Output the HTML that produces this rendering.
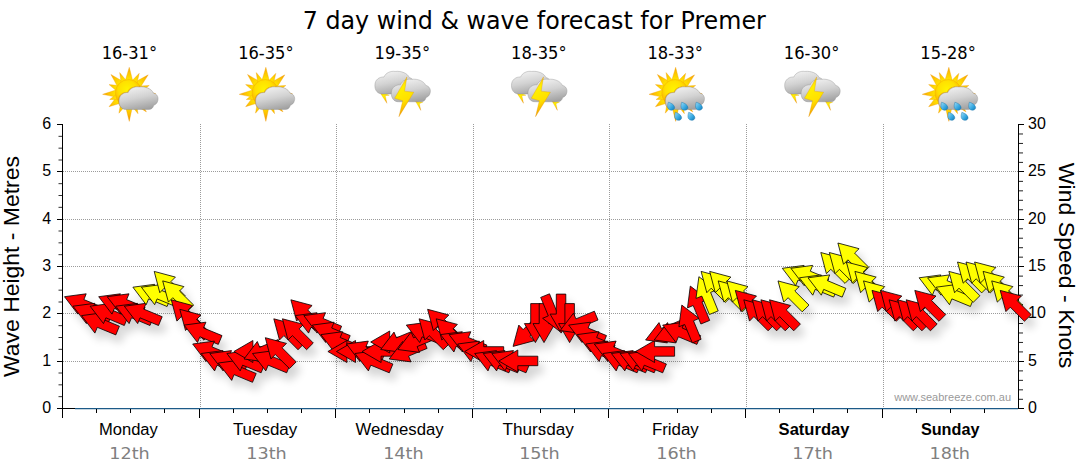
<!DOCTYPE html>
<html lang="en">
<head>
<meta charset="utf-8">
<title>7 day wind &amp; wave forecast for Premer</title>
<style>
html,body{margin:0;padding:0;background:#fff;}
body{width:1080px;height:475px;overflow:hidden;font-family:"Liberation Sans",Arial,sans-serif;}
svg{display:block;}
</style>
</head>
<body>
<svg width="1080" height="475" viewBox="0 0 1080 475">
<defs>
<filter id="sh" x="-5%" y="-20%" width="110%" height="150%">
  <feGaussianBlur in="SourceAlpha" stdDeviation="4.2" result="b"/>
  <feOffset in="b" dx="5" dy="8" result="o"/>
  <feComponentTransfer in="o" result="s"><feFuncA type="linear" slope="0.17"/></feComponentTransfer>
  <feMerge><feMergeNode in="s"/><feMergeNode in="SourceGraphic"/></feMerge>
</filter>
<radialGradient id="gsun" cx="0.45" cy="0.38" r="0.66">
  <stop offset="0" stop-color="#fff400"/><stop offset="0.5" stop-color="#ffe000"/><stop offset="0.85" stop-color="#fab400"/><stop offset="1" stop-color="#f39800"/>
</radialGradient>
<radialGradient id="gray" gradientUnits="userSpaceOnUse" cx="267" cy="221" r="225">
  <stop offset="0.45" stop-color="#ffe600"/><stop offset="0.72" stop-color="#fdc200"/><stop offset="0.95" stop-color="#f39600"/>
</radialGradient>
<linearGradient id="gcl" x1="0.25" y1="0" x2="0.6" y2="1">
  <stop offset="0" stop-color="#f2f2f2"/><stop offset="0.5" stop-color="#d2d2d2"/><stop offset="1" stop-color="#a2a2a2"/>
</linearGradient>
<linearGradient id="gbolt" x1="0" y1="0" x2="0.3" y2="1">
  <stop offset="0" stop-color="#f7a800"/><stop offset="0.35" stop-color="#fff000"/><stop offset="0.7" stop-color="#ffe000"/><stop offset="1" stop-color="#f49a00"/>
</linearGradient>
<linearGradient id="gdrop" x1="0" y1="0" x2="1" y2="1">
  <stop offset="0" stop-color="#9adcf8"/><stop offset="0.6" stop-color="#35a7e0"/><stop offset="1" stop-color="#1378b4"/>
</linearGradient>
<path id="cloud" d="M248 352 C210 352 188 322 190 282 C190 240 225 215 262 218 C275 185 315 168 350 174 C400 168 450 190 462 222 C490 228 505 255 497 282 C492 305 475 315 465 318 C460 340 445 352 425 352 Z"/>
<path id="drop" d="M-20 -28 C-2 -24 22 -10 24 8 C25 22 12 30 -2 28 C-18 26 -27 12 -25 -4 C-24 -14 -22 -22 -20 -28 Z"/>
<g id="sunrays">
  <g fill="url(#gray)" stroke="#ee9c00" stroke-width="2.5" stroke-linejoin="round"><path d="M299 126 L271 18 L239 124 Z"/><path d="M358 177 L421 78 L317 134 Z"/><path d="M362 254 L481 228 L364 194 Z"/><path d="M311 312 L407 371 L354 271 Z"/><path d="M239 318 L271 446 L299 316 Z"/><path d="M171 251 L111 330 L206 301 Z"/><path d="M170 196 L60 232 L173 256 Z"/><path d="M222 131 L126 75 L179 173 Z"/><path d="M332 147 L350 66 L292 125 Z"/><path d="M365 210 L429 162 L349 167 Z"/><path d="M344 282 L417 291 L364 241 Z"/><path d="M285 318 L340 385 L327 299 Z"/><path d="M204 297 L189 381 L246 317 Z"/><path d="M169 231 L116 273 L184 274 Z"/><path d="M188 162 L111 155 L170 205 Z"/><path d="M249 124 L195 60 L207 143 Z"/></g>
  <circle cx="267" cy="221" r="106" fill="url(#gsun)" stroke="#f2a400" stroke-width="3"/>
</g>
<g id="ic-pc">
  <use href="#sunrays"/>
  <use href="#cloud" fill="#e58a00" opacity="0.55" transform="translate(-7,-4)"/>
  <use href="#cloud" fill="url(#gcl)" stroke="#8a8a8a" stroke-width="3"/>
</g>
<g id="ic-sh">
  <use href="#sunrays"/>
  <use href="#cloud" fill="#e58a00" opacity="0.55" transform="translate(-7,-4)"/>
  <use href="#cloud" fill="url(#gcl)" stroke="#8a8a8a" stroke-width="3"/>
  <g fill="url(#gdrop)" stroke="#1670a8" stroke-width="3">
    <use href="#drop" transform="translate(236,326) scale(1.12)"/>
    <use href="#drop" transform="translate(341,326) scale(1.12)"/>
    <use href="#drop" transform="translate(456,326) scale(1.12)"/>
    <use href="#drop" transform="translate(291,406) scale(1.12)"/>
    <use href="#drop" transform="translate(396,406) scale(1.12)"/>
  </g>
</g>
<g id="ic-st"><g transform="translate(-25,1)">
  <g fill="url(#gbolt)" stroke="#e09000" stroke-width="2">
    <path d="M120 215 L152 222 L192 238 L160 242 L173 302 L138 248 L128 232 Z"/>
    <path d="M396 282 L430 288 L458 292 L430 305 L441 358 L410 304 L404 294 Z"/>
  </g>
  <use href="#cloud" fill="url(#gcl)" stroke="#8a8a8a" stroke-width="3" transform="translate(-112,-124)"/>
  <use href="#cloud" fill="url(#gcl)" stroke="#8a8a8a" stroke-width="3" transform="translate(18,-62)"/>
  <path d="M331 93 L234 262 L298 282 L268 408 L386 214 L313 206 Z" fill="url(#gbolt)" stroke="#e09000" stroke-width="2.5"/>
</g></g>
</defs>

<rect width="1080" height="475" fill="#fff"/>
<text x="534.3" y="28.8" text-anchor="middle" font-family="'DejaVu Sans Condensed', 'DejaVu Sans', Tahoma, sans-serif" font-stretch="condensed" font-size="25" fill="#000" textLength="463" lengthAdjust="spacingAndGlyphs">7 day wind &amp; wave forecast for Premer</text>
<text x="128.40" y="434.6" text-anchor="middle" font-family="'Liberation Sans', Arial, sans-serif" font-size="16" fill="#000" textLength="58.9" lengthAdjust="spacingAndGlyphs">Monday</text><text x="129.5" y="458.8" text-anchor="middle" font-family="'DejaVu Sans', Verdana, sans-serif" font-size="16" fill="#808080" textLength="40.5" lengthAdjust="spacingAndGlyphs">12th</text><text x="129.4" y="59" text-anchor="middle" font-family="'DejaVu Sans Condensed', 'DejaVu Sans', Tahoma, sans-serif" font-stretch="condensed" font-size="17" fill="#000" textLength="55.5" lengthAdjust="spacingAndGlyphs">16-31°</text><text x="265.05" y="434.6" text-anchor="middle" font-family="'Liberation Sans', Arial, sans-serif" font-size="16" fill="#000" textLength="64.3" lengthAdjust="spacingAndGlyphs">Tuesday</text><text x="266.5" y="458.8" text-anchor="middle" font-family="'DejaVu Sans', Verdana, sans-serif" font-size="16" fill="#808080" textLength="40.5" lengthAdjust="spacingAndGlyphs">13th</text><text x="265.9" y="59" text-anchor="middle" font-family="'DejaVu Sans Condensed', 'DejaVu Sans', Tahoma, sans-serif" font-stretch="condensed" font-size="17" fill="#000" textLength="55.5" lengthAdjust="spacingAndGlyphs">16-35°</text><text x="399.60" y="434.6" text-anchor="middle" font-family="'Liberation Sans', Arial, sans-serif" font-size="16" fill="#000" textLength="88.0" lengthAdjust="spacingAndGlyphs">Wednesday</text><text x="403.4" y="458.8" text-anchor="middle" font-family="'DejaVu Sans', Verdana, sans-serif" font-size="16" fill="#808080" textLength="40.5" lengthAdjust="spacingAndGlyphs">14th</text><text x="402.3" y="59" text-anchor="middle" font-family="'DejaVu Sans Condensed', 'DejaVu Sans', Tahoma, sans-serif" font-stretch="condensed" font-size="17" fill="#000" textLength="55.5" lengthAdjust="spacingAndGlyphs">19-35°</text><text x="538.20" y="434.6" text-anchor="middle" font-family="'Liberation Sans', Arial, sans-serif" font-size="16" fill="#000" textLength="71.4" lengthAdjust="spacingAndGlyphs">Thursday</text><text x="539.4" y="458.8" text-anchor="middle" font-family="'DejaVu Sans', Verdana, sans-serif" font-size="16" fill="#808080" textLength="40.5" lengthAdjust="spacingAndGlyphs">15th</text><text x="538.8" y="59" text-anchor="middle" font-family="'DejaVu Sans Condensed', 'DejaVu Sans', Tahoma, sans-serif" font-stretch="condensed" font-size="17" fill="#000" textLength="55.5" lengthAdjust="spacingAndGlyphs">18-35°</text><text x="675.35" y="434.6" text-anchor="middle" font-family="'Liberation Sans', Arial, sans-serif" font-size="16" fill="#000" textLength="46.9" lengthAdjust="spacingAndGlyphs">Friday</text><text x="676.5" y="458.8" text-anchor="middle" font-family="'DejaVu Sans', Verdana, sans-serif" font-size="16" fill="#808080" textLength="40.5" lengthAdjust="spacingAndGlyphs">16th</text><text x="675.2" y="59" text-anchor="middle" font-family="'DejaVu Sans Condensed', 'DejaVu Sans', Tahoma, sans-serif" font-stretch="condensed" font-size="17" fill="#000" textLength="55.5" lengthAdjust="spacingAndGlyphs">18-33°</text><text x="814.00" y="434.6" text-anchor="middle" font-family="'Liberation Sans', Arial, sans-serif" font-size="16" fill="#000" font-weight="bold" textLength="70.8" lengthAdjust="spacingAndGlyphs">Saturday</text><text x="812.6" y="458.8" text-anchor="middle" font-family="'DejaVu Sans', Verdana, sans-serif" font-size="16" fill="#808080" textLength="40.5" lengthAdjust="spacingAndGlyphs">17th</text><text x="811.6" y="59" text-anchor="middle" font-family="'DejaVu Sans Condensed', 'DejaVu Sans', Tahoma, sans-serif" font-stretch="condensed" font-size="17" fill="#000" textLength="55.5" lengthAdjust="spacingAndGlyphs">16-30°</text><text x="950.20" y="434.6" text-anchor="middle" font-family="'Liberation Sans', Arial, sans-serif" font-size="16" fill="#000" font-weight="bold" textLength="58.6" lengthAdjust="spacingAndGlyphs">Sunday</text><text x="949.8" y="458.8" text-anchor="middle" font-family="'DejaVu Sans', Verdana, sans-serif" font-size="16" fill="#808080" textLength="40.5" lengthAdjust="spacingAndGlyphs">18th</text><text x="948.1" y="59" text-anchor="middle" font-family="'DejaVu Sans Condensed', 'DejaVu Sans', Tahoma, sans-serif" font-stretch="condensed" font-size="17" fill="#000" textLength="55.5" lengthAdjust="spacingAndGlyphs">15-28°</text>
<use href="#ic-pc" transform="translate(95.00,65) scale(0.12642)"/><use href="#ic-pc" transform="translate(231.60,65) scale(0.12642)"/><use href="#ic-st" transform="translate(368.20,65) scale(0.12642)"/><use href="#ic-st" transform="translate(504.80,65) scale(0.12642)"/><use href="#ic-sh" transform="translate(641.40,65) scale(0.12642)"/><use href="#ic-st" transform="translate(778.00,65) scale(0.12642)"/><use href="#ic-sh" transform="translate(914.60,65) scale(0.12642)"/>
<g stroke="#9b9b9b" stroke-width="1" stroke-dasharray="1 1" shape-rendering="crispEdges"><line x1="63" y1="361.5" x2="1018" y2="361.5"/><line x1="63" y1="313.5" x2="1018" y2="313.5"/><line x1="63" y1="266.5" x2="1018" y2="266.5"/><line x1="63" y1="219.5" x2="1018" y2="219.5"/><line x1="63" y1="171.5" x2="1018" y2="171.5"/><line x1="200.5" y1="124" x2="200.5" y2="408"/><line x1="336.5" y1="124" x2="336.5" y2="408"/><line x1="473.5" y1="124" x2="473.5" y2="408"/><line x1="609.5" y1="124" x2="609.5" y2="408"/><line x1="746.5" y1="124" x2="746.5" y2="408"/><line x1="883.5" y1="124" x2="883.5" y2="408"/></g>
<text x="1011" y="401" text-anchor="end" font-family="'Liberation Sans', Arial, sans-serif" font-size="11" fill="#9a9a9a">www.seabreeze.com.au</text>
<g stroke="#000" stroke-width="1" shape-rendering="crispEdges"><line x1="62.5" y1="124" x2="62.5" y2="409"/><line x1="1018.5" y1="124" x2="1018.5" y2="409"/><line x1="57" y1="408.5" x2="1024" y2="408.5"/></g><line x1="75" y1="408.5" x2="1018" y2="408.5" stroke="#1c5a88" stroke-width="1" shape-rendering="crispEdges"/><line x1="75" y1="409.5" x2="1018" y2="409.5" stroke="#1c5a88" stroke-opacity="0.25" stroke-width="1" shape-rendering="crispEdges"/>
<g stroke="#000" stroke-width="1" shape-rendering="crispEdges"><line x1="57" y1="408.5" x2="62" y2="408.5"/><line x1="58.5" y1="396.67" x2="62" y2="396.67" shape-rendering="geometricPrecision" stroke="#333"/><line x1="58.5" y1="384.83" x2="62" y2="384.83" shape-rendering="geometricPrecision" stroke="#333"/><line x1="58.5" y1="373.00" x2="62" y2="373.00" shape-rendering="geometricPrecision" stroke="#333"/><line x1="57" y1="361.5" x2="62" y2="361.5"/><line x1="58.5" y1="349.33" x2="62" y2="349.33" shape-rendering="geometricPrecision" stroke="#333"/><line x1="58.5" y1="337.50" x2="62" y2="337.50" shape-rendering="geometricPrecision" stroke="#333"/><line x1="58.5" y1="325.67" x2="62" y2="325.67" shape-rendering="geometricPrecision" stroke="#333"/><line x1="57" y1="313.5" x2="62" y2="313.5"/><line x1="58.5" y1="302.00" x2="62" y2="302.00" shape-rendering="geometricPrecision" stroke="#333"/><line x1="58.5" y1="290.17" x2="62" y2="290.17" shape-rendering="geometricPrecision" stroke="#333"/><line x1="58.5" y1="278.33" x2="62" y2="278.33" shape-rendering="geometricPrecision" stroke="#333"/><line x1="57" y1="266.5" x2="62" y2="266.5"/><line x1="58.5" y1="254.67" x2="62" y2="254.67" shape-rendering="geometricPrecision" stroke="#333"/><line x1="58.5" y1="242.83" x2="62" y2="242.83" shape-rendering="geometricPrecision" stroke="#333"/><line x1="58.5" y1="231.00" x2="62" y2="231.00" shape-rendering="geometricPrecision" stroke="#333"/><line x1="57" y1="219.5" x2="62" y2="219.5"/><line x1="58.5" y1="207.33" x2="62" y2="207.33" shape-rendering="geometricPrecision" stroke="#333"/><line x1="58.5" y1="195.50" x2="62" y2="195.50" shape-rendering="geometricPrecision" stroke="#333"/><line x1="58.5" y1="183.67" x2="62" y2="183.67" shape-rendering="geometricPrecision" stroke="#333"/><line x1="57" y1="171.5" x2="62" y2="171.5"/><line x1="58.5" y1="160.00" x2="62" y2="160.00" shape-rendering="geometricPrecision" stroke="#333"/><line x1="58.5" y1="148.17" x2="62" y2="148.17" shape-rendering="geometricPrecision" stroke="#333"/><line x1="58.5" y1="136.33" x2="62" y2="136.33" shape-rendering="geometricPrecision" stroke="#333"/><line x1="57" y1="124.5" x2="62" y2="124.5"/><line x1="1019" y1="408.5" x2="1024" y2="408.5"/><line x1="1019" y1="399.30" x2="1023" y2="399.30" shape-rendering="geometricPrecision" stroke="#222"/><line x1="1019" y1="389.83" x2="1023" y2="389.83" shape-rendering="geometricPrecision" stroke="#222"/><line x1="1019" y1="380.35" x2="1023" y2="380.35" shape-rendering="geometricPrecision" stroke="#222"/><line x1="1019" y1="370.88" x2="1023" y2="370.88" shape-rendering="geometricPrecision" stroke="#222"/><line x1="1019" y1="361.5" x2="1024" y2="361.5"/><line x1="1019" y1="351.92" x2="1023" y2="351.92" shape-rendering="geometricPrecision" stroke="#222"/><line x1="1019" y1="342.45" x2="1023" y2="342.45" shape-rendering="geometricPrecision" stroke="#222"/><line x1="1019" y1="332.97" x2="1023" y2="332.97" shape-rendering="geometricPrecision" stroke="#222"/><line x1="1019" y1="323.50" x2="1023" y2="323.50" shape-rendering="geometricPrecision" stroke="#222"/><line x1="1019" y1="313.5" x2="1024" y2="313.5"/><line x1="1019" y1="304.54" x2="1023" y2="304.54" shape-rendering="geometricPrecision" stroke="#222"/><line x1="1019" y1="295.07" x2="1023" y2="295.07" shape-rendering="geometricPrecision" stroke="#222"/><line x1="1019" y1="285.59" x2="1023" y2="285.59" shape-rendering="geometricPrecision" stroke="#222"/><line x1="1019" y1="276.12" x2="1023" y2="276.12" shape-rendering="geometricPrecision" stroke="#222"/><line x1="1019" y1="266.5" x2="1024" y2="266.5"/><line x1="1019" y1="257.16" x2="1023" y2="257.16" shape-rendering="geometricPrecision" stroke="#222"/><line x1="1019" y1="247.69" x2="1023" y2="247.69" shape-rendering="geometricPrecision" stroke="#222"/><line x1="1019" y1="238.21" x2="1023" y2="238.21" shape-rendering="geometricPrecision" stroke="#222"/><line x1="1019" y1="228.74" x2="1023" y2="228.74" shape-rendering="geometricPrecision" stroke="#222"/><line x1="1019" y1="219.5" x2="1024" y2="219.5"/><line x1="1019" y1="209.78" x2="1023" y2="209.78" shape-rendering="geometricPrecision" stroke="#222"/><line x1="1019" y1="200.31" x2="1023" y2="200.31" shape-rendering="geometricPrecision" stroke="#222"/><line x1="1019" y1="190.83" x2="1023" y2="190.83" shape-rendering="geometricPrecision" stroke="#222"/><line x1="1019" y1="181.36" x2="1023" y2="181.36" shape-rendering="geometricPrecision" stroke="#222"/><line x1="1019" y1="171.5" x2="1024" y2="171.5"/><line x1="1019" y1="162.40" x2="1023" y2="162.40" shape-rendering="geometricPrecision" stroke="#222"/><line x1="1019" y1="152.93" x2="1023" y2="152.93" shape-rendering="geometricPrecision" stroke="#222"/><line x1="1019" y1="143.45" x2="1023" y2="143.45" shape-rendering="geometricPrecision" stroke="#222"/><line x1="1019" y1="133.98" x2="1023" y2="133.98" shape-rendering="geometricPrecision" stroke="#222"/><line x1="1019" y1="124.5" x2="1024" y2="124.5"/><line x1="62.5" y1="409" x2="62.5" y2="418"/><line x1="96.5" y1="409" x2="96.5" y2="413"/><line x1="130.5" y1="409" x2="130.5" y2="413"/><line x1="164.5" y1="409" x2="164.5" y2="413"/><line x1="199.5" y1="409" x2="199.5" y2="418"/><line x1="233.5" y1="409" x2="233.5" y2="413"/><line x1="267.5" y1="409" x2="267.5" y2="413"/><line x1="301.5" y1="409" x2="301.5" y2="413"/><line x1="335.5" y1="409" x2="335.5" y2="418"/><line x1="369.5" y1="409" x2="369.5" y2="413"/><line x1="404.5" y1="409" x2="404.5" y2="413"/><line x1="438.5" y1="409" x2="438.5" y2="413"/><line x1="472.5" y1="409" x2="472.5" y2="418"/><line x1="506.5" y1="409" x2="506.5" y2="413"/><line x1="540.5" y1="409" x2="540.5" y2="413"/><line x1="574.5" y1="409" x2="574.5" y2="413"/><line x1="608.5" y1="409" x2="608.5" y2="418"/><line x1="643.5" y1="409" x2="643.5" y2="413"/><line x1="677.5" y1="409" x2="677.5" y2="413"/><line x1="711.5" y1="409" x2="711.5" y2="413"/><line x1="745.5" y1="409" x2="745.5" y2="418"/><line x1="779.5" y1="409" x2="779.5" y2="413"/><line x1="813.5" y1="409" x2="813.5" y2="413"/><line x1="847.5" y1="409" x2="847.5" y2="413"/><line x1="882.5" y1="409" x2="882.5" y2="418"/><line x1="916.5" y1="409" x2="916.5" y2="413"/><line x1="950.5" y1="409" x2="950.5" y2="413"/><line x1="984.5" y1="409" x2="984.5" y2="413"/></g>
<g filter="url(#sh)">
<g stroke="#000" stroke-width="0.8" stroke-linejoin="miter">
<polygon fill="#ff0000" points="64.5,296.7 77.8,314.1 80.2,308.4 98.7,316.0 102.3,307.2 83.9,299.6 86.2,293.8"/>
<polygon fill="#ff0000" points="73.0,306.2 86.4,323.6 88.8,317.8 107.2,325.5 110.9,316.7 92.4,309.1 94.8,303.3"/>
<polygon fill="#ff0000" points="81.6,315.6 94.9,333.1 97.3,327.3 115.8,334.9 119.4,326.2 100.9,318.5 103.3,312.7"/>
<polygon fill="#ff0000" points="90.1,306.2 103.5,323.6 105.9,317.8 124.3,325.5 128.0,316.7 109.5,309.1 111.9,303.3"/>
<polygon fill="#ff0000" points="98.7,296.7 112.0,314.1 114.4,308.4 132.9,316.0 136.5,307.2 118.0,299.6 120.4,293.8"/>
<polygon fill="#ff0000" points="107.2,296.7 120.6,314.1 123.0,308.4 141.4,316.0 145.1,307.2 126.6,299.6 129.0,293.8"/>
<polygon fill="#ff0000" points="115.8,306.2 129.1,323.6 131.5,317.8 150.0,325.5 153.6,316.7 135.1,309.1 137.5,303.3"/>
<polygon fill="#ff0000" points="124.3,306.2 137.7,323.6 140.0,317.8 158.5,325.5 162.2,316.7 143.7,309.1 146.1,303.3"/>
<polygon fill="#ffff00" points="132.9,287.2 146.2,304.7 148.6,298.9 167.1,306.5 170.7,297.8 152.2,290.1 154.6,284.3"/>
<polygon fill="#ffff00" points="141.4,287.2 154.7,304.7 157.1,298.9 175.6,306.5 179.2,297.8 160.8,290.1 163.2,284.3"/>
<polygon fill="#ffff00" points="154.2,271.4 159.8,292.7 164.2,288.2 178.4,302.4 185.1,295.7 171.0,281.5 175.4,277.1"/>
<polygon fill="#ffff00" points="162.7,280.9 168.4,302.1 172.8,297.7 186.9,311.8 193.7,305.1 179.5,291.0 183.9,286.6"/>
<polygon fill="#ff0000" points="171.3,299.8 176.9,321.1 181.3,316.6 195.5,330.8 202.2,324.1 188.1,309.9 192.5,305.5"/>
<polygon fill="#ff0000" points="179.8,309.3 185.5,330.5 189.9,326.1 204.0,340.2 210.7,333.5 196.6,319.4 201.0,315.0"/>
<polygon fill="#ff0000" points="184.1,325.1 197.5,342.5 199.9,336.8 218.3,344.4 222.0,335.6 203.5,328.0 205.9,322.2"/>
<polygon fill="#ff0000" points="192.7,344.0 206.0,361.5 208.4,355.7 226.9,363.3 230.5,354.6 212.0,346.9 214.4,341.1"/>
<polygon fill="#ff0000" points="201.2,353.5 214.6,370.9 217.0,365.2 235.4,372.8 239.1,364.0 220.6,356.4 223.0,350.6"/>
<polygon fill="#ff0000" points="209.8,353.5 223.1,370.9 225.5,365.2 244.0,372.8 247.6,364.0 229.1,356.4 231.5,350.6"/>
<polygon fill="#ff0000" points="218.3,363.0 231.7,380.4 234.0,374.6 252.5,382.3 256.2,373.5 237.7,365.9 240.1,360.1"/>
<polygon fill="#ff0000" points="226.9,353.5 240.2,370.9 242.6,365.2 261.1,372.8 264.7,364.0 246.2,356.4 248.6,350.6"/>
<polygon fill="#ff0000" points="233.9,351.5 252.9,362.5 252.9,356.2 272.9,356.2 272.9,346.7 252.9,346.7 252.9,340.5"/>
<polygon fill="#ff0000" points="244.0,359.0 265.7,361.9 263.3,356.1 281.8,348.4 278.2,339.6 259.7,347.3 257.3,341.5"/>
<polygon fill="#ff0000" points="252.5,353.5 265.8,370.9 268.2,365.2 286.7,372.8 290.3,364.0 271.9,356.4 274.3,350.6"/>
<polygon fill="#ff0000" points="265.3,337.7 270.9,358.9 275.3,354.5 289.5,368.6 296.2,361.9 282.1,347.8 286.5,343.4"/>
<polygon fill="#ff0000" points="273.8,318.8 279.5,340.0 283.9,335.6 298.0,349.7 304.8,343.0 290.6,328.9 295.0,324.4"/>
<polygon fill="#ff0000" points="282.4,318.8 288.0,340.0 292.4,335.6 306.6,349.7 313.3,343.0 299.2,328.9 303.6,324.4"/>
<polygon fill="#ff0000" points="290.9,299.8 296.6,321.1 301.0,316.6 315.1,330.8 321.8,324.1 307.7,309.9 312.1,305.5"/>
<polygon fill="#ff0000" points="295.2,315.6 308.6,333.1 311.0,327.3 329.4,334.9 333.1,326.2 314.6,318.5 317.0,312.7"/>
<polygon fill="#ff0000" points="303.8,315.6 317.1,333.1 319.5,327.3 338.0,334.9 341.6,326.2 323.1,318.5 325.5,312.7"/>
<polygon fill="#ff0000" points="312.3,325.1 325.7,342.5 328.1,336.8 346.5,344.4 350.2,335.6 331.7,328.0 334.1,322.2"/>
<polygon fill="#ff0000" points="320.9,334.6 334.2,352.0 336.6,346.2 355.1,353.9 358.7,345.1 340.2,337.5 342.6,331.7"/>
<polygon fill="#ff0000" points="327.9,351.5 346.9,362.5 346.9,356.2 366.9,356.2 366.9,346.7 346.9,346.7 346.9,340.5"/>
<polygon fill="#ff0000" points="336.5,351.5 355.5,362.5 355.5,356.2 375.5,356.2 375.5,346.7 355.5,346.7 355.5,340.5"/>
<polygon fill="#ff0000" points="346.5,344.0 359.8,361.5 362.2,355.7 380.7,363.3 384.4,354.6 365.9,346.9 368.3,341.1"/>
<polygon fill="#ff0000" points="355.0,353.5 368.4,370.9 370.8,365.2 389.3,372.8 392.9,364.0 374.4,356.4 376.8,350.6"/>
<polygon fill="#ff0000" points="362.1,351.5 381.1,362.5 381.1,356.2 401.1,356.2 401.1,346.7 381.1,346.7 381.1,340.5"/>
<polygon fill="#ff0000" points="370.7,342.0 389.7,353.0 389.7,346.8 409.7,346.8 409.7,337.3 389.7,337.3 389.7,331.0"/>
<polygon fill="#ff0000" points="380.7,349.5 402.4,352.4 400.1,346.6 418.5,339.0 414.9,330.2 396.4,337.8 394.0,332.1"/>
<polygon fill="#ff0000" points="389.2,359.0 411.0,361.9 408.6,356.1 427.1,348.4 423.4,339.6 405.0,347.3 402.6,341.5"/>
<polygon fill="#ff0000" points="397.8,349.5 419.5,352.4 417.1,346.6 435.6,339.0 432.0,330.2 413.5,337.8 411.1,332.1"/>
<polygon fill="#ff0000" points="406.3,325.1 419.7,342.5 422.1,336.8 440.5,344.4 444.2,335.6 425.7,328.0 428.1,322.2"/>
<polygon fill="#ff0000" points="419.1,318.8 424.8,340.0 429.2,335.6 443.3,349.7 450.0,343.0 435.9,328.9 440.3,324.4"/>
<polygon fill="#ff0000" points="427.6,309.3 433.3,330.5 437.7,326.1 451.9,340.2 458.6,333.5 444.4,319.4 448.9,315.0"/>
<polygon fill="#ff0000" points="436.2,318.8 441.8,340.0 446.3,335.6 460.4,349.7 467.1,343.0 453.0,328.9 457.4,324.4"/>
<polygon fill="#ff0000" points="440.5,334.6 453.9,352.0 456.2,346.2 474.7,353.9 478.4,345.1 459.9,337.5 462.3,331.7"/>
<polygon fill="#ff0000" points="449.1,334.6 462.4,352.0 464.8,346.2 483.3,353.9 486.9,345.1 468.4,337.5 470.8,331.7"/>
<polygon fill="#ff0000" points="457.6,344.0 470.9,361.5 473.3,355.7 491.8,363.3 495.4,354.6 477.0,346.9 479.4,341.1"/>
<polygon fill="#ff0000" points="464.7,351.5 483.7,362.5 483.7,356.2 503.7,356.2 503.7,346.7 483.7,346.7 483.7,340.5"/>
<polygon fill="#ff0000" points="474.7,353.5 488.0,370.9 490.4,365.2 508.9,372.8 512.5,364.0 494.1,356.4 496.5,350.6"/>
<polygon fill="#ff0000" points="483.2,353.5 496.6,370.9 499.0,365.2 517.5,372.8 521.1,364.0 502.6,356.4 505.0,350.6"/>
<polygon fill="#ff0000" points="491.8,353.5 505.1,370.9 507.5,365.2 526.0,372.8 529.6,364.0 511.2,356.4 513.5,350.6"/>
<polygon fill="#ff0000" points="498.8,361.0 517.8,372.0 517.8,365.7 537.8,365.7 537.8,356.2 517.8,356.2 517.8,350.0"/>
<polygon fill="#ff0000" points="513.1,346.4 534.3,340.7 529.9,336.3 544.0,322.1 537.3,315.4 523.2,329.6 518.8,325.1"/>
<polygon fill="#ff0000" points="535.4,342.6 546.4,323.6 540.2,323.6 540.2,303.6 530.7,303.6 530.7,323.6 524.4,323.6"/>
<polygon fill="#ff0000" points="544.0,342.6 555.0,323.6 548.7,323.6 548.7,303.6 539.2,303.6 539.2,323.6 533.0,323.6"/>
<polygon fill="#ff0000" points="560.0,331.6 562.9,309.9 557.1,312.3 549.5,293.8 540.7,297.4 548.3,315.9 542.6,318.3"/>
<polygon fill="#ff0000" points="561.1,333.1 572.1,314.1 565.8,314.1 565.8,294.1 556.3,294.1 556.3,314.1 550.1,314.1"/>
<polygon fill="#ff0000" points="569.6,342.6 580.6,323.6 574.4,323.6 574.4,303.6 564.9,303.6 564.9,323.6 558.6,323.6"/>
<polygon fill="#ff0000" points="560.2,330.6 581.9,333.5 579.5,327.7 598.0,320.0 594.4,311.2 575.9,318.9 573.5,313.1"/>
<polygon fill="#ff0000" points="568.7,325.1 582.0,342.5 584.4,336.8 602.9,344.4 606.5,335.6 588.1,328.0 590.5,322.2"/>
<polygon fill="#ff0000" points="577.2,334.6 590.6,352.0 593.0,346.2 611.5,353.9 615.1,345.1 596.6,337.5 599.0,331.7"/>
<polygon fill="#ff0000" points="585.8,344.0 599.1,361.5 601.5,355.7 620.0,363.3 623.6,354.6 605.2,346.9 607.6,341.1"/>
<polygon fill="#ff0000" points="594.3,344.0 607.7,361.5 610.1,355.7 628.5,363.3 632.2,354.6 613.7,346.9 616.1,341.1"/>
<polygon fill="#ff0000" points="602.9,353.5 616.2,370.9 618.6,365.2 637.1,372.8 640.7,364.0 622.3,356.4 624.6,350.6"/>
<polygon fill="#ff0000" points="611.4,353.5 624.8,370.9 627.2,365.2 645.6,372.8 649.3,364.0 630.8,356.4 633.2,350.6"/>
<polygon fill="#ff0000" points="620.0,353.5 633.3,370.9 635.7,365.2 654.2,372.8 657.8,364.0 639.3,356.4 641.7,350.6"/>
<polygon fill="#ff0000" points="628.5,353.5 641.9,370.9 644.3,365.2 662.7,372.8 666.4,364.0 647.9,356.4 650.3,350.6"/>
<polygon fill="#ff0000" points="635.6,351.5 654.6,362.5 654.6,356.2 674.6,356.2 674.6,346.7 654.6,346.7 654.6,340.5"/>
<polygon fill="#ff0000" points="645.6,340.0 667.4,342.9 665.0,337.1 683.5,329.5 679.8,320.7 661.3,328.4 659.0,322.6"/>
<polygon fill="#ff0000" points="654.2,340.0 675.9,342.9 673.5,337.1 692.0,329.5 688.4,320.7 669.9,328.4 667.5,322.6"/>
<polygon fill="#ff0000" points="662.7,325.1 676.0,342.5 678.4,336.8 696.9,344.4 700.6,335.6 682.1,328.0 684.5,322.2"/>
<polygon fill="#ff0000" points="681.8,305.1 678.9,326.8 684.7,324.5 692.3,342.9 701.1,339.3 693.5,320.8 699.2,318.4"/>
<polygon fill="#ff0000" points="690.3,286.1 687.5,307.9 693.2,305.5 700.9,324.0 709.7,320.4 702.0,301.9 707.8,299.5"/>
<polygon fill="#ffff00" points="698.9,276.7 696.0,298.4 701.8,296.1 709.4,314.5 718.2,310.9 710.6,292.4 716.3,290.0"/>
<polygon fill="#ffff00" points="701.1,271.4 706.8,292.7 711.2,288.2 725.3,302.4 732.1,295.7 717.9,281.5 722.3,277.1"/>
<polygon fill="#ffff00" points="709.7,271.4 715.3,292.7 719.7,288.2 733.9,302.4 740.6,295.7 726.5,281.5 730.9,277.1"/>
<polygon fill="#ffff00" points="718.2,280.9 723.9,302.1 728.3,297.7 742.4,311.8 749.1,305.1 735.0,291.0 739.4,286.6"/>
<polygon fill="#ffff00" points="726.8,280.9 732.4,302.1 736.8,297.7 751.0,311.8 757.7,305.1 743.5,291.0 748.0,286.6"/>
<polygon fill="#ff0000" points="735.3,290.4 741.0,311.6 745.4,307.2 759.5,321.3 766.2,314.6 752.1,300.5 756.5,296.0"/>
<polygon fill="#ff0000" points="743.8,299.8 749.5,321.1 753.9,316.6 768.1,330.8 774.8,324.1 760.6,309.9 765.1,305.5"/>
<polygon fill="#ff0000" points="752.4,299.8 758.0,321.1 762.5,316.6 776.6,330.8 783.3,324.1 769.2,309.9 773.6,305.5"/>
<polygon fill="#ff0000" points="760.9,299.8 766.6,321.1 771.0,316.6 785.2,330.8 791.9,324.1 777.7,309.9 782.2,305.5"/>
<polygon fill="#ff0000" points="769.5,299.8 775.1,321.1 779.6,316.6 793.7,330.8 800.4,324.1 786.3,309.9 790.7,305.5"/>
<polygon fill="#ffff00" points="778.0,280.9 783.7,302.1 788.1,297.7 802.2,311.8 809.0,305.1 794.8,291.0 799.2,286.6"/>
<polygon fill="#ffff00" points="782.3,268.3 795.7,285.7 798.1,280.0 816.6,287.6 820.2,278.8 801.7,271.2 804.1,265.4"/>
<polygon fill="#ffff00" points="790.9,268.3 804.2,285.7 806.6,280.0 825.1,287.6 828.7,278.8 810.3,271.2 812.7,265.4"/>
<polygon fill="#ffff00" points="799.4,277.8 812.8,295.2 815.2,289.4 833.7,297.1 837.3,288.3 818.8,280.6 821.2,274.9"/>
<polygon fill="#ffff00" points="808.0,277.8 821.3,295.2 823.7,289.4 842.2,297.1 845.8,288.3 827.4,280.6 829.7,274.9"/>
<polygon fill="#ffff00" points="820.8,252.5 826.4,273.7 830.8,269.3 845.0,283.4 851.7,276.7 837.6,262.6 842.0,258.2"/>
<polygon fill="#ffff00" points="829.3,252.5 835.0,273.7 839.4,269.3 853.5,283.4 860.2,276.7 846.1,262.6 850.5,258.2"/>
<polygon fill="#ffff00" points="837.9,243.0 843.5,264.3 847.9,259.8 862.1,274.0 868.8,267.3 854.6,253.1 859.1,248.7"/>
<polygon fill="#ffff00" points="846.4,262.0 852.1,283.2 856.5,278.8 870.6,292.9 877.3,286.2 863.2,272.0 867.6,267.6"/>
<polygon fill="#ffff00" points="854.9,271.4 860.6,292.7 865.0,288.2 879.2,302.4 885.9,295.7 871.7,281.5 876.2,277.1"/>
<polygon fill="#ffff00" points="863.5,280.9 869.1,302.1 873.6,297.7 887.7,311.8 894.4,305.1 880.3,291.0 884.7,286.6"/>
<polygon fill="#ff0000" points="872.0,290.4 877.7,311.6 882.1,307.2 896.3,321.3 903.0,314.6 888.8,300.5 893.2,296.0"/>
<polygon fill="#ff0000" points="880.6,290.4 886.2,311.6 890.7,307.2 904.8,321.3 911.5,314.6 897.4,300.5 901.8,296.0"/>
<polygon fill="#ff0000" points="889.1,299.8 894.8,321.1 899.2,316.6 913.3,330.8 920.1,324.1 905.9,309.9 910.3,305.5"/>
<polygon fill="#ff0000" points="897.7,299.8 903.3,321.1 907.7,316.6 921.9,330.8 928.6,324.1 914.5,309.9 918.9,305.5"/>
<polygon fill="#ff0000" points="906.2,299.8 911.9,321.1 916.3,316.6 930.4,330.8 937.2,324.1 923.0,309.9 927.4,305.5"/>
<polygon fill="#ff0000" points="914.8,290.4 920.4,311.6 924.8,307.2 939.0,321.3 945.7,314.6 931.6,300.5 936.0,296.0"/>
<polygon fill="#ffff00" points="919.1,277.8 932.4,295.2 934.8,289.4 953.3,297.1 956.9,288.3 938.5,280.6 940.8,274.9"/>
<polygon fill="#ffff00" points="927.6,277.8 941.0,295.2 943.4,289.4 961.8,297.1 965.5,288.3 947.0,280.6 949.4,274.9"/>
<polygon fill="#ffff00" points="936.2,287.2 949.5,304.7 951.9,298.9 970.4,306.5 974.0,297.8 955.5,290.1 957.9,284.3"/>
<polygon fill="#ffff00" points="948.9,271.4 954.6,292.7 959.0,288.2 973.2,302.4 979.9,295.7 965.7,281.5 970.2,277.1"/>
<polygon fill="#ffff00" points="957.5,262.0 963.2,283.2 967.6,278.8 981.7,292.9 988.4,286.2 974.3,272.0 978.7,267.6"/>
<polygon fill="#ffff00" points="966.0,262.0 971.7,283.2 976.1,278.8 990.3,292.9 997.0,286.2 982.8,272.0 987.3,267.6"/>
<polygon fill="#ffff00" points="974.6,262.0 980.2,283.2 984.7,278.8 998.8,292.9 1005.5,286.2 991.4,272.0 995.8,267.6"/>
<polygon fill="#ffff00" points="983.1,271.4 988.8,292.7 993.2,288.2 1007.4,302.4 1014.1,295.7 999.9,281.5 1004.3,277.1"/>
<polygon fill="#ffff00" points="991.7,280.9 997.3,302.1 1001.8,297.7 1015.9,311.8 1022.6,305.1 1008.5,291.0 1012.9,286.6"/>
<polygon fill="#ff0000" points="1000.2,290.4 1005.9,311.6 1010.3,307.2 1024.4,321.3 1031.2,314.6 1017.0,300.5 1021.4,296.0"/>
</g>
</g>
<g font-family="'Liberation Sans', Arial, sans-serif" font-size="16" fill="#000"><text x="51.2" y="412.8" text-anchor="end">0</text><text x="51.2" y="365.5" text-anchor="end">1</text><text x="51.2" y="318.1" text-anchor="end">2</text><text x="51.2" y="270.8" text-anchor="end">3</text><text x="51.2" y="223.5" text-anchor="end">4</text><text x="51.2" y="176.1" text-anchor="end">5</text><text x="51.2" y="128.8" text-anchor="end">6</text><text x="1028" y="413.1">0</text><text x="1028" y="365.8">5</text><text x="1028" y="318.4">10</text><text x="1028" y="271.1">15</text><text x="1028" y="223.8">20</text><text x="1028" y="176.4">25</text><text x="1028" y="129.1">30</text></g>
<text transform="translate(19,266.5) rotate(-90)" text-anchor="middle" font-family="'Liberation Sans', Arial, sans-serif" font-size="22" fill="#000" textLength="221" lengthAdjust="spacingAndGlyphs">Wave Height - Metres</text><text transform="translate(1058.5,265.5) rotate(90)" text-anchor="middle" font-family="'Liberation Sans', Arial, sans-serif" font-size="22" fill="#000" textLength="205.5" lengthAdjust="spacingAndGlyphs">Wind Speed - Knots</text>
</svg>
</body>
</html>
